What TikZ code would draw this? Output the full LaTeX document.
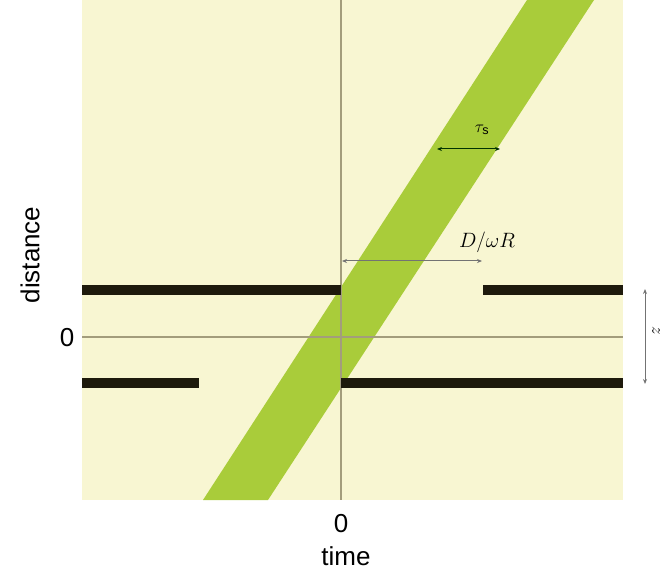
\documentclass[tikz,border=0pt]{standalone}
\usepackage{fontspec}
\setmainfont{Liberation Sans}
\usetikzlibrary{arrows.meta}
\definecolor{bgy}{HTML}{F8F6D2}
\definecolor{band}{HTML}{A9CC3A}
\definecolor{axisc}{HTML}{A39D7C}
\definecolor{barc}{HTML}{1E1A0C}
\tikzset{
  barline/.style={line width=10pt, draw=barc},
  axisline/.style={line width=1.8pt, draw=axisc},
  dim/.style={line width=1pt, {Stealth[length=5pt,width=4pt]}-{Stealth[length=5pt,width=4pt]}},
  lbl/.style={inner sep=0pt, font=\fontsize{26}{28}\selectfont}
}
\begin{document}
\begin{tikzpicture}[x=1pt,y=-1pt]
\useasboundingbox (0,0) rectangle (665,575);
\fill[bgy] (82,0) rectangle (623,500);
\fill[band] (203,500) -- (268,500) -- (594,0) -- (527,0) -- cycle;
\draw[axisline] (341,0) -- (341,500);
\draw[axisline] (82,337) -- (623,337);
\draw[barline] (82,290) -- (341,290);
\draw[barline] (483,290) -- (623,290);
\draw[barline] (82,383) -- (199,383);
\draw[barline] (341,383) -- (623,383);
\coordinate (t1) at (437,149);
\coordinate (t2) at (500,149);
\draw[dim, draw=black!80!green] (t1) -- (t2);
\node[inner sep=0pt, font=\fontsize{18}{20}\selectfont] (tau) at (482,130) {$\tau_{\mathrm s}$};
\coordinate (d1) at (342,261);
\coordinate (d2) at (482,261);
\draw[dim, draw=black!55] (d1) -- (d2);
\node[inner sep=0pt, font=\fontsize{20}{22}\selectfont] (dwr) at (487,242) {$D/\omega R$};
\coordinate (z1) at (645,289);
\coordinate (z2) at (645,384);
\draw[dim, draw=black!55] (z1) -- (z2);
\node[inner sep=0pt, rotate=-90, font=\fontsize{18}{20}\selectfont] (zl) at (656,331) {$z$};
\node[lbl, rotate=90] (dist) at (30,255) {distance};
\node[lbl] (zy) at (67,338) {0};
\node[lbl] (zx) at (341,524) {0};
\node[lbl] (time) at (346,556) {time};
\end{tikzpicture}
\end{document}
